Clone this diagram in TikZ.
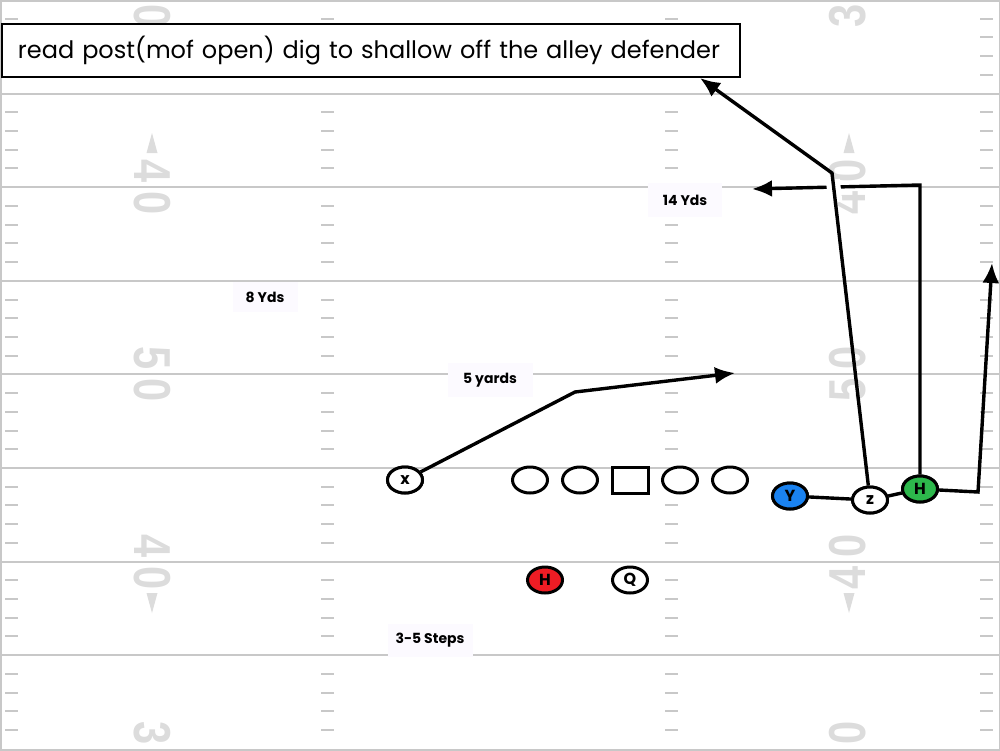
\documentclass[tikz,border=0pt]{standalone}
\usepackage{fontspec}
\setmainfont{Poppins}
\newfontfamily\numfont{Liberation Sans}
\usetikzlibrary{shapes.geometric,arrows.meta,calc}
\definecolor{yardgray}{HTML}{C8C8C8}
\definecolor{numgray}{HTML}{DCDCDC}
\definecolor{tagbg}{HTML}{FCFAFF}
\definecolor{wrblue}{HTML}{1A82F0}
\definecolor{rbred}{HTML}{EE1C24}
\definecolor{tegreen}{HTML}{2DB84C}

\begin{document}
\begin{tikzpicture}[x=0.5pt,y=-0.5pt,
    yardline/.style={yardgray,line width=1pt},
    hashmark/.style={yardgray,line width=1pt},
    fieldno/.style={numgray,inner sep=0pt,font=\numfont\bfseries\fontsize{26}{26}\selectfont},
    yardtag/.style={fill=tagbg,inner sep=0pt,font=\bfseries\fontsize{7}{7}\selectfont},
    player/.style={ellipse,draw,line width=1.5pt,fill=white,minimum width=17.5pt,minimum height=13pt,inner sep=0pt,font=\bfseries\fontsize{8}{8}\selectfont},
    route/.style={line width=1.7pt,-{Latex[length=10pt,width=8.5pt]}},
    link/.style={line width=1.7pt}
]
    \useasboundingbox (0,0) rectangle (1000,750);
    % field
    \draw[yardgray,line width=1pt] (0.5,0.5) rectangle (999.5,749.5);
    \foreach \i in {1,...,7}
        \draw[yardline] (0,\i*93.6) -- (1000,\i*93.6);
    \foreach \i in {0,...,7}
        \foreach \k in {1,...,4}
            \foreach \hx in {5,321,665,980}
                \draw[hashmark] (\hx,\i*93.6+\k*18.72) -- ++(13,0);
    % yard numbers
    \foreach \ly/\d in {0/3,187.2/4,374.4/5,561.6/4,748.8/3} {
        \node[fieldno,rotate=-90] at (152,\ly-16) {\scalebox{0.8}[1]{\d}};
        \node[fieldno,rotate=-90] at (152,\ly+16) {\scalebox{0.8}[1]{0}};
        \node[fieldno,rotate=90] at (848,\ly-16) {\scalebox{0.8}[1]{0}};
        \node[fieldno,rotate=90] at (848,\ly+16) {\scalebox{0.8}[1]{\d}};
    }
    \fill[numgray] (152,133) -- (157.5,153) -- (146.5,153) -- cycle;
    \fill[numgray] (849,133) -- (854.5,153) -- (843.5,153) -- cycle;
    \fill[numgray] (152,613) -- (157.5,593) -- (146.5,593) -- cycle;
    \fill[numgray] (849,613) -- (854.5,593) -- (843.5,593) -- cycle;

    % title
    \node[draw,line width=1pt,fill=white,anchor=north west,text width=353pt,inner xsep=8pt,minimum height=26.5pt,align=left,font=\fontsize{12}{14}\selectfont] (title) at (1,23) {\mbox{read post(mof open) dig to shallow off the alley defender}};

    % distance tags
    \node[yardtag,minimum width=37pt,minimum height=17pt] (t14) at (685,200) {14 Yds};
    \node[yardtag,minimum width=32.5pt,minimum height=15pt] (t8) at (265,297) {8 Yds};
    \node[yardtag,minimum width=42.5pt,minimum height=17pt] (t5) at (490,380) {5 yards};
    \node[yardtag,minimum width=42.5pt,minimum height=16.5pt] (t35) at (430,640) {3-5 Steps};

    % players
    \node[player] (x) at (405,480) {x};
    \node[player] (lt) at (530,480) {};
    \node[player] (lg) at (580,480) {};
    \node[draw,line width=1.5pt,fill=white,minimum width=18pt,minimum height=13pt,inner sep=0pt] (c) at (630,480) {};
    \node[player] (rg) at (680,480) {};
    \node[player] (rt) at (730,480) {};
    \node[player,fill=rbred] (hb) at (545,580) {H};
    \node[player] (q) at (630,580) {Q};
    \node[player,fill=wrblue] (y) at (790,496) {Y};
    \node[player] (z) at (870,500) {z};
    \node[player,fill=tegreen] (h) at (920,489) {H};

    % routes
    \coordinate (xbend) at (575,392);
    \coordinate (xend) at (735,373);
    \coordinate (zbend) at (832,173);
    \coordinate (zend) at (700,78);
    \coordinate (hbend) at (920,185);
    \coordinate (hend) at (752,189);
    \coordinate (rbend) at (978,492);
    \coordinate (rend) at (992,263);
    \draw[route] (x) -- (xbend) -- (xend);
    \draw[route] (h) -- (hbend) -- (hend);
    \draw[white,line width=7pt] ($(zbend)!0.02!(z)$) -- ($(zbend)!0.09!(z)$);
    \draw[route] (z) -- (zbend) -- (zend);
    \draw[route] (h) -- (rbend) -- (rend);
    \draw[link] (y) -- (z);
    \draw[link] (z) -- (h);

    % players on top of routes
    \node[player,fill=wrblue] at (y) {Y};
    \node[player] at (z) {z};
    \node[player,fill=tegreen] at (h) {H};
    \node[player] at (x) {x};
\end{tikzpicture}
\end{document}
